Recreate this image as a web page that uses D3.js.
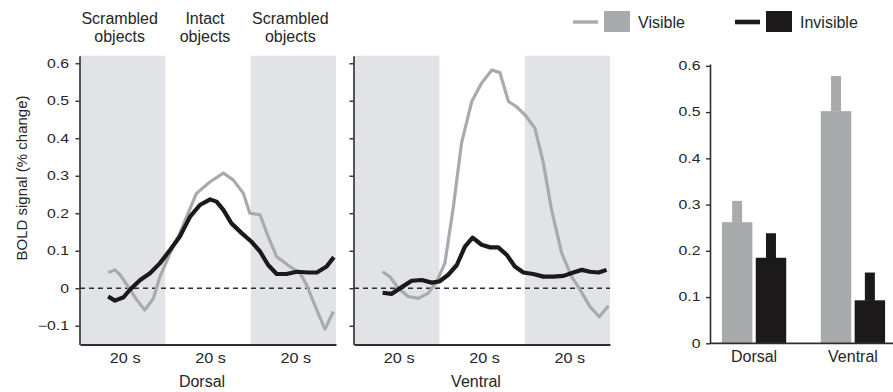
<!DOCTYPE html>
<html>
<head>
<meta charset="utf-8">
<script src="https://cdn.jsdelivr.net/npm/d3@7"></script>
<style>
  html, body { margin: 0; padding: 0; background: #fff; }
  svg { display: block; font-family: "Liberation Sans", Arial, Helvetica, sans-serif; }
</style>
</head>
<body>
<svg id="chart" width="893" height="392"></svg>
<script>
// Block design: three 20 s epochs per cycle
const epochHeaders = [["Scrambled", "objects"], ["Intact", "objects"], ["Scrambled", "objects"]];
const epochLabels = ["20 s", "20 s", "20 s"];
const epochShaded = [true, false, true];
const yTicks = [-0.1, 0, 0.1, 0.2, 0.3, 0.4, 0.5, 0.6];
const barTicks = [0, 0.1, 0.2, 0.3, 0.4, 0.5, 0.6];
const regions = ["Dorsal", "Ventral"];
const conditions = ["Visible", "Invisible"];

// Time courses (seconds, % signal change)
const dorsalVisibleT = [6.6, 8.2, 9.4, 11.3, 13.3, 15.2, 17.2, 18.75, 21.1, 23.4, 25, 27.3, 30.5, 33.6, 35.9, 38.3, 39.8, 42.2, 44.1, 46.1, 49.2, 51.6, 53.1, 55.5, 57.4, 59.4];
const dorsalVisible = [0.042, 0.049, 0.036, 0.004, -0.031, -0.058, -0.027, 0.031, 0.093, 0.147, 0.191, 0.253, 0.284, 0.307, 0.289, 0.253, 0.2, 0.196, 0.138, 0.084, 0.058, 0.04, 0.009, -0.058, -0.109, -0.062];
const dorsalInvisibleT = [6.6, 8.2, 10.2, 11.7, 14.1, 16.4, 18.75, 21.1, 23.4, 25.8, 28.1, 30.5, 32, 33.6, 35.5, 37.9, 40.2, 42.2, 44.1, 46.1, 48.4, 50.8, 53.5, 55.5, 57.8, 59.5];
const dorsalInvisible = [-0.022, -0.033, -0.024, -0.004, 0.022, 0.04, 0.067, 0.102, 0.138, 0.191, 0.222, 0.237, 0.231, 0.209, 0.173, 0.147, 0.124, 0.098, 0.062, 0.038, 0.038, 0.044, 0.042, 0.042, 0.058, 0.083];
const ventralVisibleT = [6.7, 8.4, 10.4, 12.7, 15.1, 17.4, 19.4, 21.3, 23.3, 25.2, 27.6, 29.9, 32.3, 34.2, 36.2, 38.1, 40.1, 42.4, 44.4, 46.3, 48.7, 51, 53, 55.3, 57.5, 59.6];
const ventralVisible = [0.044, 0.031, 0, -0.022, -0.027, -0.013, 0.018, 0.067, 0.218, 0.387, 0.498, 0.547, 0.582, 0.575, 0.498, 0.484, 0.462, 0.427, 0.333, 0.209, 0.093, 0.031, -0.004, -0.049, -0.076, -0.047];
const ventralInvisibleT = [6.7, 8.8, 11.2, 13.5, 15.9, 18.2, 20, 22.1, 24.1, 26, 27.8, 29.9, 31.9, 33.8, 35.8, 37.7, 39.7, 42, 44.4, 46.7, 49.1, 51.4, 53.4, 55.3, 57.3, 59.2];
const ventralInvisible = [-0.012, -0.015, 0.003, 0.02, 0.022, 0.015, 0.018, 0.036, 0.062, 0.111, 0.135, 0.116, 0.109, 0.109, 0.089, 0.058, 0.042, 0.038, 0.031, 0.031, 0.033, 0.042, 0.049, 0.044, 0.042, 0.049];

// Mean response amplitude and upper error per region: [Visible, Invisible]
const dorsalMean = [0.262, 0.185];
const dorsalError = [0.046, 0.053];
const ventralMean = [0.502, 0.093];
const ventralError = [0.076, 0.06];

const COL = {
  visible: "#a8aaac",
  invisible: "#1b191a",
  shade: "#e1e3e6",
  axis: "#2e2e2e",
  text: "#262626"
};

const svg = d3.select("#chart");

// shared vertical scale for the two time-course panels
const y = d3.scaleLinear().domain([-0.15, 0.62]).range([344.5, 55.75]);

const panels = [
  { name: "Dorsal", x0: 80, x1: 336, vis: [dorsalVisibleT, dorsalVisible], inv: [dorsalInvisibleT, dorsalInvisible], labels: true },
  { name: "Ventral", x0: 354, x1: 610, vis: [ventralVisibleT, ventralVisible], inv: [ventralInvisibleT, ventralInvisible], labels: false }
];

function stretchTicks(sel, dx, sx) {
  sel.selectAll("text")
    .attr("x", 0)
    .attr("transform", `translate(${dx},0) scale(${sx},1)`);
}

panels.forEach(p => {
  const x = d3.scaleLinear().domain([0, 60]).range([p.x0, p.x1]);
  const g = svg.append("g");

  // shaded epochs
  g.selectAll("rect.epoch")
    .data(epochShaded.map((s, i) => ({ s, i })).filter(d => d.s))
    .join("rect")
    .attr("class", "epoch")
    .attr("x", d => x(d.i * 20))
    .attr("width", x(20) - x(0))
    .attr("y", y(0.62))
    .attr("height", y(-0.15) - y(0.62))
    .attr("fill", COL.shade);

  // zero baseline
  g.append("line")
    .attr("x1", x(0)).attr("x2", x(60))
    .attr("y1", y(0)).attr("y2", y(0))
    .attr("stroke", COL.axis)
    .attr("stroke-width", 1.3)
    .attr("stroke-dasharray", "5,4");

  const line = d3.line()
    .x(d => x(d[0]))
    .y(d => y(d[1]))
    .curve(d3.curveLinear);

  const series = [
    { tv: p.vis, color: COL.visible, w: 3.2 },
    { tv: p.inv, color: COL.invisible, w: 4.2 }
  ];
  series.forEach(s => {
    const pts = s.tv[0].map((t, i) => [t, s.tv[1][i]]);
    g.append("path")
      .datum(pts)
      .attr("d", line)
      .attr("fill", "none")
      .attr("stroke", s.color)
      .attr("stroke-width", s.w)
      .attr("stroke-linejoin", "round")
      .attr("stroke-linecap", "butt");
  });

  // y axis
  const yAxis = d3.axisLeft(y)
    .tickValues(yTicks)
    .tickSize(4)
    .tickSizeOuter(0)
    .tickFormat(p.labels ? (d => d === 0 ? "0" : (d < 0 ? "\u2212" : "") + Math.abs(d).toFixed(1)) : "");
  const ya = g.append("g")
    .attr("transform", `translate(${p.x0 - 0.5},0)`)
    .call(yAxis);
  ya.select(".domain").attr("stroke", COL.axis).attr("stroke-width", 1.6);
  ya.selectAll(".tick line").attr("stroke", COL.axis).attr("stroke-width", 1.4);
  ya.selectAll("text").attr("fill", COL.text).attr("font-size", 12);
  stretchTicks(ya, -10.5, 1.32);

  // x axis: epoch durations
  const xAxis = d3.axisBottom(x)
    .tickValues([10, 30, 50])
    .tickSize(0)
    .tickSizeOuter(0)
    .tickPadding(8)
    .tickFormat((d, i) => epochLabels[i]);
  const xa = g.append("g")
    .attr("transform", `translate(0,${y(-0.15)})`)
    .call(xAxis);
  xa.select(".domain").attr("stroke", COL.axis).attr("stroke-width", 1.8);
  xa.selectAll("text").attr("fill", COL.text).attr("font-size", 15);
  stretchTicks(xa, 2, 1.08);

  // region name
  g.append("text")
    .attr("x", (p.x0 + p.x1) / 2 - 6)
    .attr("y", 387)
    .attr("text-anchor", "middle")
    .attr("font-size", 16)
    .attr("fill", COL.text)
    .text(p.name);

  // epoch headers over the left panel
  if (p.labels) {
    epochHeaders.forEach((lines, i) => {
      const t = g.append("text")
        .attr("text-anchor", "middle")
        .attr("font-size", 16)
        .attr("fill", COL.text);
      lines.forEach((ln, k) => {
        t.append("tspan")
          .attr("x", x(i * 20 + 10) - 3)
          .attr("y", 24 + k * 17.5)
          .text(ln);
      });
    });
  }
});

// y axis title
svg.append("text")
  .attr("transform", "translate(27,178) rotate(-90)")
  .attr("text-anchor", "middle")
  .attr("font-size", 15)
  .attr("fill", COL.text)
  .text("BOLD signal (% change)");

// ---- bar chart of peak amplitudes ----
const yb = d3.scaleLinear().domain([0, 0.604]).range([343.3, 64]);
const x0 = d3.scaleBand().domain(regions).range([714, 893]).paddingInner(0.35).paddingOuter(0.08);
const x1 = d3.scaleBand().domain(conditions).range([0, x0.bandwidth()]).paddingInner(0.1).paddingOuter(0);
const barColor = d3.scaleOrdinal().domain(conditions).range([COL.visible, COL.invisible]);

const barData = [
  { region: "Dorsal", mean: dorsalMean, err: dorsalError },
  { region: "Ventral", mean: ventralMean, err: ventralError }
].flatMap(r => conditions.map((c, i) => ({ region: r.region, cond: c, mean: r.mean[i], err: r.err[i] })));

const bg = svg.append("g");
const groups = bg.selectAll("g.bar")
  .data(barData)
  .join("g")
  .attr("class", "bar")
  .attr("transform", d => `translate(${x0(d.region) + x1(d.cond)},0)`);

groups.append("rect")
  .attr("x", 0)
  .attr("width", x1.bandwidth())
  .attr("y", d => yb(d.mean))
  .attr("height", d => yb(0) - yb(d.mean))
  .attr("fill", d => barColor(d.cond));

const errW = 10;
groups.append("rect")
  .attr("x", (x1.bandwidth() - errW) / 2)
  .attr("width", errW)
  .attr("y", d => yb(d.mean + d.err))
  .attr("height", d => yb(d.mean) - yb(d.mean + d.err) + 0.5)
  .attr("fill", d => barColor(d.cond));

const yba = bg.append("g")
  .attr("transform", "translate(710,0)")
  .call(d3.axisLeft(yb).tickValues(barTicks).tickSize(4).tickSizeOuter(0)
    .tickFormat(d => d === 0 ? "0" : d.toFixed(1)));
yba.select(".domain").attr("stroke", COL.axis).attr("stroke-width", 1.6);
yba.selectAll(".tick line").attr("stroke", COL.axis).attr("stroke-width", 1.4);
yba.selectAll("text").attr("fill", COL.text).attr("font-size", 12);
stretchTicks(yba, -9.5, 1.32);

const xba = bg.append("g")
  .attr("transform", `translate(0,${yb(0)})`)
  .call(d3.axisBottom(x0).tickSize(0).tickSizeOuter(0).tickPadding(7));
xba.select(".domain")
  .attr("d", `M710,0H893`)
  .attr("stroke", COL.axis).attr("stroke-width", 1.8);
xba.selectAll("text").attr("fill", COL.text).attr("font-size", 16);

// ---- legend ----
const legend = svg.append("g");
const legendItems = [
  { label: "Visible", color: COL.visible, lx: 573, w: 3.4 },
  { label: "Invisible", color: COL.invisible, lx: 735, w: 4.6 }
];
legendItems.forEach(it => {
  legend.append("line")
    .attr("x1", it.lx).attr("x2", it.lx + 25)
    .attr("y1", 22).attr("y2", 22)
    .attr("stroke", it.color).attr("stroke-width", it.w);
  legend.append("rect")
    .attr("x", it.lx + 31).attr("y", 11)
    .attr("width", 26).attr("height", 21)
    .attr("fill", it.color);
  legend.append("text")
    .attr("x", it.lx + 65).attr("y", 28)
    .attr("font-size", 16)
    .attr("fill", COL.text)
    .text(it.label);
});
</script>
</body>
</html>
